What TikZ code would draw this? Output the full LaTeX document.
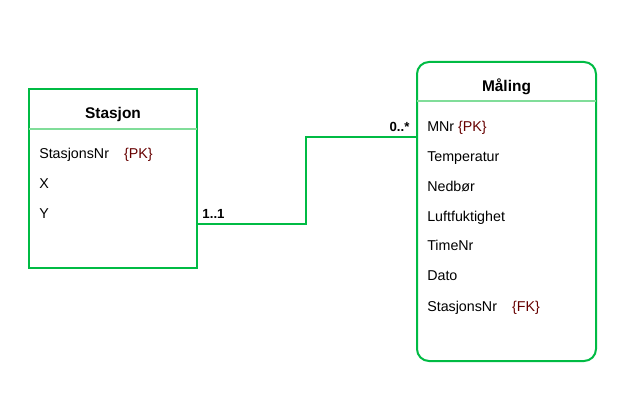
\documentclass[tikz,border=0pt]{standalone}
\usepackage{fontspec}
\setmainfont{Liberation Sans}
\definecolor{eg}{RGB}{0,187,68}
\definecolor{egl}{RGB}{128,221,153}
\definecolor{pk}{RGB}{102,0,0}
\begin{document}
\begin{tikzpicture}[x=0.75pt,y=-0.75pt,
  ent/.style={draw=eg,line width=1.5pt,inner sep=0pt,outer sep=0pt,rectangle},
  sep/.style={draw=egl,line width=1pt},
  ttl/.style={font=\fontsize{11.6pt}{13pt}\selectfont\bfseries,inner sep=0pt,anchor=base},
  attr/.style={font=\fontsize{10.7pt}{12pt}\selectfont,anchor=base west,inner sep=0pt},
  card/.style={font=\fontsize{9.9pt}{11pt}\selectfont\bfseries,inner sep=0pt,anchor=base},
  rel/.style={draw=eg,line width=2pt}]
\useasboundingbox (0,0) rectangle (633,410);
% Stasjon
\node[ent,minimum width=126pt,minimum height=134.25pt] (s) at (113,178.5) {};
\coordinate (sl) at (29,129); \coordinate (sr) at (197,129);
\draw[sep] (sl) -- (sr);
\node[ttl] (st) at (113,119) {Stasjon};
\node[attr] (s1) at (39,159) {StasjonsNr\hspace{1.05em}\textcolor{pk}{\{PK\}}};
\node[attr] (s2) at (39,189) {X};
\node[attr] (s3) at (39,219) {Y};
% Maling
\node[ent,rounded corners=9pt,minimum width=134.25pt,minimum height=224.25pt] (m) at (506.5,211.5) {};
\coordinate (ml) at (417,101); \coordinate (mr) at (596,101);
\draw[sep] (ml) -- (mr);
\node[ttl] (mt) at (506.5,92) {Måling};
\node[attr] (m1) at (427,132) {MNr \textcolor{pk}{\{PK\}}};
\node[attr] (m2) at (427,162) {Temperatur};
\node[attr] (m3) at (427,191.5) {Nedbør};
\node[attr] (m4) at (427,221.5) {Luftfuktighet};
\node[attr] (m5) at (427,251) {TimeNr};
\node[attr] (m6) at (427,281) {Dato};
\node[attr] (m7) at (427,311) {StasjonsNr\hspace{1.05em}\textcolor{pk}{\{FK\}}};
% relation
\coordinate (a) at (197,224);
\coordinate (b) at (417,137);
\draw[rel] (s.east |- a) -- (306,224) -- (306,137) -- (m.west |- b);
\node[card] (c1) at (213.5,218.5) {1..1};
\node[card] (c2) at (399.5,131.5) {0..*};
\end{tikzpicture}
\end{document}
